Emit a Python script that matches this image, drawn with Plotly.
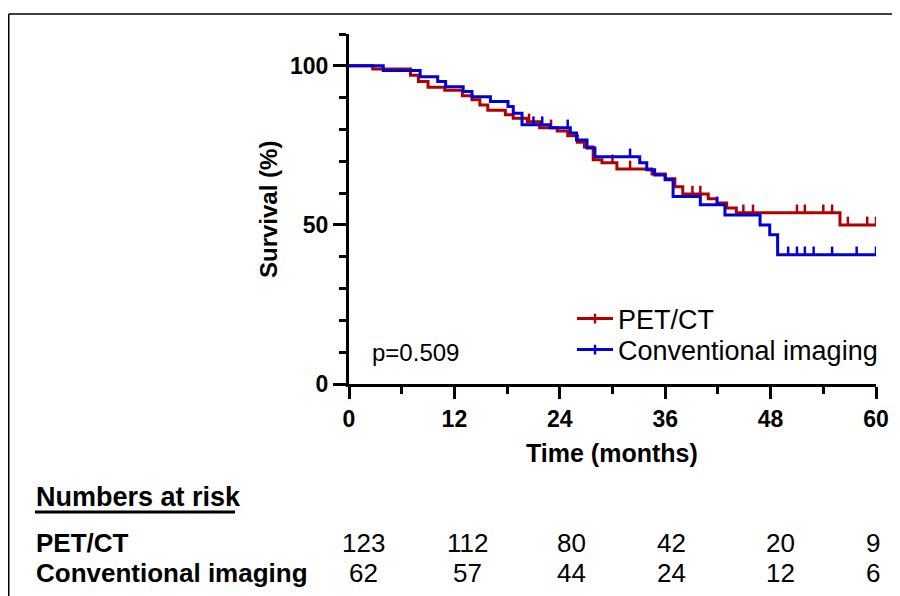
import numpy as np
import plotly.graph_objects as go

# ---------------- data ----------------
pet_t = [0, 2.7, 7.0, 7.9, 9.0, 10.9, 12.9, 14.0, 14.9, 15.8, 17.8, 18.7, 20.3, 21.7, 23.7,
         24.9, 26.0, 26.8, 27.8, 28.8, 30.5, 34.5, 36.0, 37.1, 38.0, 40.9, 41.9, 43.0, 44.1, 55.9, 60]
pet_s = [100, 99.0, 97.0, 95.1, 93.3, 92.3, 90.6, 89.3, 87.7, 86.0, 84.6, 83.5, 82.4, 80.5, 79.5,
         78.0, 76.0, 74.5, 70.5, 69.5, 67.6, 66.0, 64.5, 62.0, 59.7, 58.2, 56.9, 55.3, 53.8, 50.0, 50.0]
pet_cens = [20.5, 23.0, 30.0, 32.0, 39.1, 40.0, 44.9, 46.0, 51.0, 51.9, 54.0, 55.0, 56.8, 59.0, 60.0]

conv_t = [0, 3.9, 8.1, 10.1, 11.0, 13.0, 14.0, 16.1, 18.1, 18.7, 19.7, 22.9, 25.2, 25.9, 27.1,
          28.0, 33.1, 33.9, 34.8, 36.0, 36.9, 40.0, 42.8, 46.8, 47.9, 48.8, 60]
conv_s = [100, 98.5, 96.6, 95.1, 93.4, 91.9, 90.3, 88.8, 87.2, 85.1, 81.5, 80.5, 78.9, 76.7, 74.2,
          71.4, 69.5, 67.3, 65.7, 64.2, 58.9, 56.3, 53.1, 50.0, 46.9, 40.6, 40.6]
conv_cens = [21.0, 22.0, 24.9, 32.0, 41.9, 50.0, 51.0, 51.9, 52.9, 55.0, 57.8, 60.0]

series_names = ["PET/CT", "Conventional imaging"]
risk_times = [0, 12, 24, 36, 48, 60]
pet_risk = [123, 112, 80, 42, 20, 9]
conv_risk = [62, 57, 44, 24, 12, 6]
p_text = "p=0.509"

# ---------------- style ----------------
RED = "#B00000"
BLUE = "#0000D8"
FONT = "Liberation Sans, Arial, sans-serif"
OFF = 8  # page body margin
PL, PR, PT, PB = 349, 876, 34, 384  # plot area in page pixels
W, H = 900 - OFF, 596 - OFF
L, T = PL - OFF, PT - OFF
R, B = W - (PR - OFF), H - (PB - OFF)
PW, PH = PR - PL, PB - PT


def px(x):
    return (x - PL) / PW


def py(y):
    return (PB - y) / PH


def step_value(ts, ss, t):
    i = np.searchsorted(np.array(ts), t, side="right") - 1
    return ss[max(i, 0)]


def censor_segments(ts, ss, cens, h=2.6):
    xs, ys = [], []
    for c in cens:
        v = step_value(ts, ss, c)
        xs += [c, c, None]
        ys += [v, v + h, None]
    return xs, ys


fig = go.Figure()
for name, ts, ss, cens, col, lg in [
    (series_names[0], pet_t, pet_s, pet_cens, RED, "legend"),
    (series_names[1], conv_t, conv_s, conv_cens, BLUE, "legend2"),
]:
    fig.add_trace(go.Scatter(x=ts, y=ss, mode="lines", line=dict(color=col, width=3, shape="hv"),
                             showlegend=False, hoverinfo="skip"))
    cx, cy = censor_segments(ts, ss, cens)
    fig.add_trace(go.Scatter(x=cx, y=cy, mode="lines", line=dict(color=col, width=2.5),
                             showlegend=False, hoverinfo="skip"))
    fig.add_trace(go.Scatter(x=[None], y=[None], mode="lines+markers", name=name, legend=lg,
                             line=dict(color=col, width=3),
                             marker=dict(symbol="line-ns", size=7, line=dict(color=col, width=2.5))))

axis_common = dict(showline=True, linecolor="black", linewidth=3, ticks="outside",
                   tickcolor="black", tickwidth=3, showgrid=False, zeroline=False,
                   tickfont=dict(family=FONT, size=23, color="black", weight="bold"))
fig.update_xaxes(range=[0, 60], tickmode="array", tickvals=risk_times, ticklen=12,
                 minor=dict(dtick=6, tick0=0, ticklen=7, tickwidth=3, tickcolor="black", ticks="outside"),
                 ticklabelstandoff=0, **axis_common)
fig.update_yaxes(range=[0, 110], tickmode="array", tickvals=[0, 50, 100], ticklen=13,
                 minor=dict(dtick=10, tick0=0, ticklen=7, tickwidth=3, tickcolor="black", ticks="outside"),
                 ticklabelstandoff=0, **axis_common)


def text(t, x, y, size, bold=False, xanchor="center", xref="paper", xshift=0, angle=0):
    return dict(text=t, x=x, y=py(y), xref=xref, yref="paper", xanchor=xanchor, yanchor="middle",
                xshift=xshift, textangle=angle, showarrow=False,
                font=dict(family=FONT, size=size, color="black", weight="bold" if bold else "normal"))


ann = [
    text("Survival (%)", px(268), 210, 24, bold=True, angle=-90),
    text("Time (months)", px(612), 453, 25, bold=True),
    text(p_text, px(370), 352, 24, xanchor="left"),
    text("Numbers at risk", px(34), 497, 27, bold=True, xanchor="left"),
    text(series_names[0], px(34), 543, 26, bold=True, xanchor="left"),
    text(series_names[1], px(34), 573, 26, bold=True, xanchor="left"),
]
col_shift = [14, 13, 12, 6, 10, -3]
for t, a, b, sh in zip(risk_times, pet_risk, conv_risk, col_shift):
    ann.append(text(str(a), t, 543, 26, xref="x", xshift=sh))
    ann.append(text(str(b), t, 573, 26, xref="x", xshift=sh))

shapes = [
    dict(type="line", xref="paper", yref="paper", x0=px(OFF + 0.75), x1=px(905), y0=py(14), y1=py(14),
         line=dict(color="black", width=1.5)),
    dict(type="line", xref="paper", yref="paper", x0=px(OFF + 0.75), x1=px(OFF + 0.75), y0=py(14), y1=py(600),
         line=dict(color="black", width=1.5)),
    dict(type="line", xref="paper", yref="paper", x0=px(35), x1=px(235), y0=py(512), y1=py(512),
         line=dict(color="black", width=3)),
]

leg_common = dict(xanchor="left", yanchor="middle", bgcolor="rgba(0,0,0,0)",
                  font=dict(family=FONT, size=27, color="black"), itemwidth=36, borderwidth=0)
fig.update_layout(
    width=W, height=H, margin=dict(l=L, r=R, t=T, b=B, autoexpand=False),
    paper_bgcolor="white", plot_bgcolor="white",
    annotations=ann, shapes=shapes,
    legend=dict(x=px(572), y=py(319), **leg_common),
    legend2=dict(x=px(572), y=py(350), **leg_common),
)

fig.write_html("out.html")
